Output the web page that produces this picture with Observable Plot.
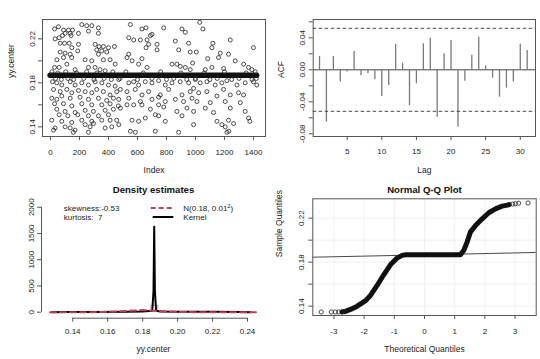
<!DOCTYPE html>
<html><head><meta charset="utf-8">
<script src="https://cdn.jsdelivr.net/npm/d3@7"></script>
<script src="https://cdn.jsdelivr.net/npm/@observablehq/plot@0.6"></script>
<style>
body{margin:0;background:#fff;}
#wrap{position:relative;width:540px;height:359px;overflow:hidden;font-family:"Liberation Sans",Arial,Helvetica,sans-serif;}
#wrap svg{position:absolute;}
#wrap text{white-space:pre;}
</style></head><body><div id="wrap"></div>
<script>
// ---------- Panel 1: yy.center vs Index ----------
const idxTicks = [0, 200, 400, 600, 800, 1000, 1200, 1400];
const valTicks = [0.14, 0.16, 0.18, 0.20, 0.22];
const valLabels = [0.14, 0.18, 0.22];
const bandValue = 0.1868;
const bandFrom = 1, bandTo = 1425;
const scatterPoints = [
[28,.229],[55,.231],[90,.228],[124,.228],[152,.228],[216,.233],[250,.232],[285,.232],[331,.230],[331,.225],
[32,.220],[60,.221],[83,.223],[101,.225],[136,.225],[142,.223],[193,.225],[262,.227],[67,.216],[97,.216],
[129,.216],[147,.212],[188,.209],[193,.215],[308,.215],[335,.213],[365,.213],[400,.212],[441,.213],[319,.210],
[354,.209],[388,.208],[331,.206],[67,.208],[101,.207],[136,.206],[90,.203],[44,.201],[147,.203],[239,.201],
[285,.200],[365,.201],[411,.201],[446,.197],[113,.197],[28,.194],[60,.194],[170,.192],[262,.194],[308,.194],
[342,.192],[377,.191],
[14,.181],[44,.180],[78,.178],[136,.181],[170,.178],[216,.180],[262,.178],[308,.181],[354,.180],[400,.178],
[446,.177],[21,.174],[67,.172],[113,.174],[147,.171],[193,.173],[239,.172],[285,.171],[319,.174],[365,.172],
[411,.169],[457,.172],[9,.166],[44,.165],[78,.168],[136,.166],[204,.167],[262,.165],[331,.166],[388,.164],
[434,.166],[28,.161],[90,.161],[147,.159],[216,.161],[285,.160],[354,.160],[411,.161],[468,.159],[44,.156],
[101,.154],[170,.153],[239,.155],[296,.154],[377,.155],[434,.156],[60,.151],[120,.150],[188,.151],[262,.150],
[331,.150],[400,.151],[9,.146],[78,.145],[147,.144],[216,.146],[285,.145],[354,.146],[411,.146],[457,.146],
[32,.139],[21,.137],[101,.140],[136,.139],[170,.137],[239,.142],[273,.140],[296,.143],[158,.135],[262,.135],
[377,.139],[423,.140],
[10,.190],[35,.184],[50,.189],[75,.183],[105,.190],[120,.184],[160,.183],[180,.189],[230,.184],[250,.190],
[300,.183],[320,.189],[370,.184],[420,.183],[430,.190],[480,.184],[520,.190],[600,.183],[640,.189],[700,.184],
[760,.190],[800,.183],[850,.184],[900,.189],[940,.183],[1000,.184],[1060,.189],[1100,.183],[1150,.184],[1200,.190],
[1250,.183],[1300,.184],[1350,.189],[1390,.183],[1420,.184],
[551,.233],[631,.229],[659,.230],[781,.230],[907,.229],[930,.226],[540,.221],[574,.219],[620,.219],[666,.219],
[689,.223],[700,.224],[677,.215],[659,.212],[735,.215],[735,.210],[861,.218],[953,.216],[884,.210],[964,.208],
[540,.206],[528,.203],[563,.200],[608,.197],[666,.194],[631,.202],[838,.197],[872,.197],[895,.195],[930,.194],
[964,.192],[980,.198],
[471,.183],[540,.180],[574,.181],[608,.178],[654,.181],[700,.180],[746,.182],[792,.178],[838,.180],[895,.181],
[953,.180],[482,.174],[528,.172],[585,.174],[631,.169],[677,.172],[758,.169],[815,.174],[907,.169],[964,.172],
[471,.165],[540,.166],[620,.163],[700,.165],[746,.167],[792,.163],[861,.165],[918,.163],[976,.166],[482,.157],
[528,.160],[574,.160],[631,.160],[689,.156],[746,.160],[781,.158],[872,.154],[941,.157],[471,.142],[563,.146],
[608,.145],[654,.148],[723,.151],[746,.150],[792,.145],[907,.150],[551,.136],[585,.135],[723,.136],[884,.135],
[987,.142],
[1029,.235],[1051,.229],[1240,.219],[1400,.212],[1120,.216],[1113,.212],[1006,.208],[1084,.202],[1171,.207],[1159,.203],
[1228,.206],[1274,.200],[1332,.197],[1366,.194],[1389,.192],[1412,.190],[1068,.192],[1113,.194],[1194,.193],
[999,.183],[1033,.180],[1079,.181],[1136,.178],[1182,.180],[1217,.182],[1286,.178],[1343,.180],[1400,.181],[1423,.178],
[987,.175],[1022,.171],[1079,.172],[1148,.168],[1194,.174],[1240,.169],[1297,.171],[1332,.169],[1010,.163],[1102,.162],
[1205,.163],[1309,.162],[987,.154],[1068,.157],[1125,.153],[1240,.157],[1343,.154],[1366,.148],[1148,.145],[1182,.142],
[1205,.140],[1228,.146],[1263,.143],[1230,.136],[1375,.145],[1217,.135]
];

// ---------- Panel 2: ACF ----------
const acfLag = [1,2,3,4,5,6,7,8,9,10,11,12,13,14,15,16,17,18,19,20,21,22,23,24,25,26,27,28,29,30,31];
const acfValue = [0.0167,-0.0654,0.0167,-0.0154,-0.0029,0.0229,-0.0071,-0.0050,-0.0125,-0.0333,
  -0.0196,0.0317,0.0083,-0.0446,-0.0175,0.0325,0.0396,-0.0592,0.0200,0.0367,
  -0.0717,-0.0142,0.0183,0.0408,0.0050,-0.0104,-0.0342,-0.0229,-0.0154,0.0321,0.0242];
const acfBound = 0.0519;
const lagTicks = [5, 10, 15, 20, 25, 30];
const acfTicks = [-0.08, -0.06, -0.04, -0.02, 0, 0.02, 0.04, 0.06];
const acfLabels = [-0.08, -0.04, 0, 0.04];

// ---------- Panel 3: Density estimates ----------
const densXTicks = [0.14, 0.16, 0.18, 0.20, 0.22, 0.24];
const densYTicks = [0, 500, 1000, 1500, 2000];
const kernelX = [0.128, 0.135, 0.150, 0.170, 0.180, 0.1855, 0.1862, 0.1866, 0.1870, 0.1877, 0.190, 0.200, 0.220, 0.235, 0.242];
const kernelY = [0, 4, 6, 9, 14, 30, 400, 1630, 400, 30, 14, 10, 7, 4, 0];
const normX = [0.127, 0.150, 0.160, 0.170, 0.180, 0.190, 0.200, 0.210, 0.2457];
const normY = [0.1, 0.44, 5.4, 24.2, 39.9, 24.2, 5.4, 0.44, 0];
const histX1 = [0.185], histX2 = [0.189], histY = [125];
const skewText = "skewness:-0.53", kurtText = "kurtosis:  7";

// ---------- Panel 4: Normal Q-Q ----------
const qqXTicks = [-3, -2, -1, 0, 1, 2, 3];
const qqCurveX = [-2.73, -2.62, -2.45, -2.23, -1.95, -1.79, -1.57, -1.35, -1.13, -0.91, -0.74, -0.62, 1.19, 1.30, 1.41, 1.52, 1.69, 1.91, 2.13, 2.35, 2.57, 2.79];
const qqCurveY = [0.1348, 0.1352, 0.1370, 0.1400, 0.1450, 0.1497, 0.1588, 0.1685, 0.1776, 0.1837, 0.1862, 0.1868, 0.1868, 0.1906, 0.1982, 0.2073, 0.2134, 0.2194, 0.2249, 0.2285, 0.2309, 0.2321];
const qqTails = [[-3.42,.1347],[-3.09,.1347],[-2.95,.1347],[-2.84,.1347],[-2.73,.1348],[-2.66,.1350],
  [2.81,.2325],[2.92,.2328],[3.01,.2331],[3.12,.2336],[3.43,.2338]];
const qqLineX = [-3.7, 3.7], qqLineY = [0.1845, 0.1888];

// ---------- drawing ----------
const FONT = "'Liberation Sans', Arial, Helvetica, sans-serif";
const INK = "#222", BOX = "#555";
const wrap = document.getElementById("wrap");
const baseStyle = {fontFamily: FONT, fontSize: "8px", color: INK, background: "transparent", overflow: "visible"};
const fmt2 = d => d.toFixed(2);

function place(svg, left, top) { svg.style.left = left + "px"; svg.style.top = top + "px"; wrap.appendChild(svg); }

// Panel 1
const yDom = [0.1312, 0.2376];
place(Plot.plot({
  width: 270, height: 180, marginLeft: 42, marginRight: 5, marginTop: 19, marginBottom: 44,
  x: {domain: [-55, 1483]}, y: {domain: yDom}, style: baseStyle,
  marks: [
    Plot.ruleY([bandValue], {x1: bandFrom, x2: bandTo, stroke: "#111", strokeWidth: 5.5, strokeLinecap: "round"}),
    Plot.dot(scatterPoints, {x: d => d[0], y: d => d[1], r: 2, stroke: "#222", strokeWidth: 0.8}),
    Plot.frame({stroke: BOX}),
    Plot.axisX({ticks: idxTicks, tickSize: 4, tickFormat: () => "", label: null, stroke: BOX}),
    Plot.axisY({ticks: valTicks, tickSize: 4, tickFormat: () => "", label: null, stroke: BOX}),
    Plot.text(idxTicks, {x: d => d, text: d => String(d), frameAnchor: "bottom", dy: 16, lineAnchor: "middle", fill: INK, fontSize: 8}),
    Plot.text(valLabels, {y: d => d, text: fmt2, frameAnchor: "left", dx: -10.5, rotate: -90, textAnchor: "middle", lineAnchor: "middle", fill: INK, fontSize: 8}),
    Plot.text(["Index"], {text: d => d, frameAnchor: "bottom", dy: 34, lineAnchor: "middle", fill: INK, fontSize: 8.5}),
    Plot.text(["yy.center"], {text: d => d, frameAnchor: "left", dx: -31, rotate: -90, lineAnchor: "middle", fill: INK, fontSize: 8.5})
  ]
}), 0, 0);

// Panel 2
place(Plot.plot({
  width: 270, height: 180, marginLeft: 42.7, marginRight: 5, marginTop: 19, marginBottom: 44,
  x: {domain: [0.09, 32.2]}, y: {domain: [-0.0834, 0.0629]}, style: baseStyle,
  marks: [
    Plot.ruleY([0], {stroke: "#444", strokeWidth: 1}),
    Plot.ruleX(acfLag, {x: d => d, y1: 0, y2: (d, i) => acfValue[i], stroke: "#7a7a7a", strokeWidth: 1.3}),
    Plot.ruleY([acfBound, -acfBound], {stroke: "#333", strokeWidth: 0.9, strokeDasharray: "3.5,2.5"}),
    Plot.frame({stroke: BOX}),
    Plot.axisX({ticks: lagTicks, tickSize: 4, tickFormat: () => "", label: null, stroke: BOX}),
    Plot.axisY({ticks: acfTicks, tickSize: 4, tickFormat: () => "", label: null, stroke: BOX}),
    Plot.text(lagTicks, {x: d => d, text: d => String(d), frameAnchor: "bottom", dy: 15, lineAnchor: "middle", fill: INK, fontSize: 8}),
    Plot.text(acfLabels, {y: d => d, text: fmt2, frameAnchor: "left", dx: -11, rotate: -90, textAnchor: "middle", lineAnchor: "middle", fill: INK, fontSize: 8}),
    Plot.text(["Lag"], {text: d => d, frameAnchor: "bottom", dy: 34, lineAnchor: "middle", fill: INK, fontSize: 8.5}),
    Plot.text(["ACF"], {text: d => d, frameAnchor: "left", dx: -31.5, rotate: -90, lineAnchor: "middle", fill: INK, fontSize: 8.5})
  ]
}), 270, 0);

// Panel 3
const densXDom = [0.1221, 0.2503], densYDom = [-114, 2160];
const dens = Plot.plot({
  width: 270, height: 179, marginLeft: 41, marginRight: 5, marginTop: 18.3, marginBottom: 41.3,
  x: {domain: densXDom}, y: {domain: densYDom}, style: baseStyle,
  marks: [
    Plot.rect(histY, {x1: (d, i) => histX1[i], x2: (d, i) => histX2[i], y1: 0, y2: d => d, fill: "none", stroke: "#aaa", strokeWidth: 0.8}),
    Plot.line(kernelX, {x: d => d, y: (d, i) => kernelY[i], stroke: "#000", strokeWidth: 2}),
    Plot.line(normX, {x: d => d, y: (d, i) => normY[i], stroke: "#c0405a", strokeWidth: 2, strokeDasharray: "6,4"}),
    Plot.ruleX([densXDom[0]], {y1: densYTicks[0], y2: densYTicks[densYTicks.length - 1], stroke: BOX}),
    Plot.ruleY([densYDom[0]], {x1: densXTicks[0], x2: densXTicks[densXTicks.length - 1], stroke: BOX}),
    Plot.axisX({ticks: densXTicks, tickSize: 4, tickFormat: () => "", label: null, stroke: BOX}),
    Plot.axisY({ticks: densYTicks, tickSize: 4, tickFormat: () => "", label: null, stroke: BOX}),
    Plot.text(densXTicks, {x: d => d, text: fmt2, frameAnchor: "bottom", dy: 13, lineAnchor: "middle", fill: INK, fontSize: 8}),
    Plot.text(densYTicks, {y: d => d, text: d => String(d), frameAnchor: "left", dx: -10.5, rotate: -90, textAnchor: "middle", lineAnchor: "middle", fill: INK, fontSize: 8}),
    Plot.text(["yy.center"], {text: d => d, frameAnchor: "bottom", dy: 31.5, lineAnchor: "middle", fill: INK, fontSize: 8.5}),
    Plot.text(["Density estimates"], {text: d => d, frameAnchor: "top", dy: -9, lineAnchor: "middle", fill: "#111", fontSize: 9.6, fontWeight: "bold"}),
    Plot.text([skewText], {text: d => d, frameAnchor: "top-left", dx: 22.3, dy: 9.8, textAnchor: "start", lineAnchor: "middle", fill: INK, fontSize: 8}),
    Plot.text([kurtText], {text: d => d, frameAnchor: "top-left", dx: 22.3, dy: 18.8, textAnchor: "start", lineAnchor: "middle", fill: INK, fontSize: 8})
  ]
});
place(dens, 0, 180);
// legend overlay
(function(){
  const g = d3.select(dens).append("g").attr("font-family", FONT).attr("font-size", 8)
    .attr("fill", INK).attr("text-anchor", "start");
  g.append("line").attr("x1", 150.7).attr("x2", 173.3).attr("y1", 28).attr("y2", 28)
    .attr("stroke", "#c0405a").attr("stroke-width", 2).attr("stroke-dasharray", "5,3");
  g.append("line").attr("x1", 152.7).attr("x2", 173.3).attr("y1", 37).attr("y2", 37)
    .attr("stroke", "#000").attr("stroke-width", 2);
  const t = g.append("text").attr("x", 183.3).attr("y", 30.8);
  t.append("tspan").text("N(0.18, 0.01");
  t.append("tspan").attr("font-size", 5.8).attr("dy", -3.3).text("2");
  t.append("tspan").attr("dy", 3.3).text(")");
  g.append("text").attr("x", 183.3).attr("y", 40).text("Kernel");
})();

// Panel 4
place(Plot.plot({
  width: 270, height: 179, marginLeft: 42.3, marginRight: 4.3, marginTop: 18.3, marginBottom: 44,
  x: {domain: [-3.7, 3.7]}, y: {domain: [0.1315, 0.2376]}, style: baseStyle,
  marks: [
    Plot.gridX({ticks: qqXTicks, stroke: "#f0f0f0", strokeOpacity: 1}),
    Plot.gridY({ticks: valTicks, stroke: "#f0f0f0", strokeOpacity: 1}),
    Plot.line(qqLineX, {x: d => d, y: (d, i) => qqLineY[i], stroke: "#333", strokeWidth: 0.9, clip: true}),
    Plot.line(qqCurveX, {x: d => d, y: (d, i) => qqCurveY[i], stroke: "#111", strokeWidth: 5, strokeLinejoin: "round", strokeLinecap: "round"}),
    Plot.dot(qqTails, {x: d => d[0], y: d => d[1], r: 2.1, stroke: "#222", strokeWidth: 0.8}),
    Plot.frame({stroke: BOX}),
    Plot.axisX({ticks: qqXTicks, tickSize: 4, tickFormat: () => "", label: null, stroke: BOX}),
    Plot.axisY({ticks: valTicks, tickSize: 4, tickFormat: () => "", label: null, stroke: BOX}),
    Plot.text(qqXTicks, {x: d => d, text: d => String(d), frameAnchor: "bottom", dy: 15.7, lineAnchor: "middle", fill: INK, fontSize: 8}),
    Plot.text(valLabels, {y: d => d, text: fmt2, frameAnchor: "left", dx: -11.5, rotate: -90, textAnchor: "middle", lineAnchor: "middle", fill: INK, fontSize: 8}),
    Plot.text(["Theoretical Quantiles"], {text: d => d, frameAnchor: "bottom", dy: 34, lineAnchor: "middle", fill: INK, fontSize: 8.5}),
    Plot.text(["Sample Quantiles"], {text: d => d, frameAnchor: "left", dx: -34, rotate: -90, lineAnchor: "middle", fill: INK, fontSize: 8.5}),
    Plot.text(["Normal Q-Q Plot"], {text: d => d, frameAnchor: "top", dy: -8.5, lineAnchor: "middle", fill: "#111", fontSize: 9.6, fontWeight: "bold"})
  ]
}), 270, 180);
</script></body></html>
